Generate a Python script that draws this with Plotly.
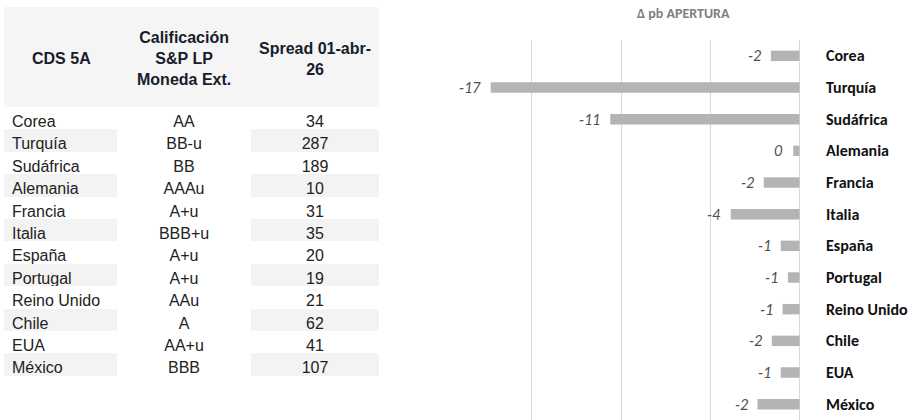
import plotly.graph_objects as go

# ---- data ----
paises = ["Corea", "Turquía", "Sudáfrica", "Alemania", "Francia", "Italia",
          "España", "Portugal", "Reino Unido", "Chile", "EUA", "México"]
calificacion = ["AA", "BB-u", "BB", "AAAu", "A+u", "BBB+u",
                "A+u", "A+u", "AAu", "A", "AA+u", "BBB"]
spread = [34, 287, 189, 10, 31, 35, 20, 19, 21, 62, 41, 107]
delta_pb = [-1.6, -17.3, -10.6, -0.35, -2.0, -3.85, -1.05, -0.65, -0.95, -1.55, -1.05, -2.35]
header_cols = ["CDS 5A", "Calificación<br>S&P LP<br>Moneda Ext.", "Spread 01-abr-<br>26"]
chart_title = "Δ pb APERTURA"

W, H = 915, 420
def px(x):
    return x / W
def py(y):
    return 1 - y / H

fig = go.Figure()

# ---- table (left) ----
n = len(paises)
stripe = ["#ffffff" if i % 2 == 0 else "#f3f3f3" for i in range(n)]
fig.add_trace(go.Table(
    domain=dict(x=[px(4), px(379)], y=[0, py(7)]),
    columnwidth=[113, 134, 128],
    header=dict(values=["", "", ""], height=100, fill_color="#f5f5f5",
                line=dict(width=0, color="#f5f5f5")),
    cells=dict(values=[paises, calificacion, spread], height=22.4,
               align=["left", "center", "center"],
               fill_color=[stripe, ["#ffffff"] * n, stripe],
               line=dict(width=0, color="#ffffff"),
               font=dict(family="Arial, Liberation Sans", size=16, color="#222222")),
))

header_x = [62, 184, 315]
header_y = [59, 59, 59]
for txt, hx, hy in zip(header_cols, header_x, header_y):
    fig.add_annotation(text="<b>" + txt + "</b>", x=px(hx), y=py(hy), xref="paper", yref="paper",
                       xanchor="center", yanchor="middle", showarrow=False, align="center",
                       font=dict(family="Arial, Liberation Sans", size=16, color="#17202a"))

# ---- bar chart (right) ----
fig.add_trace(go.Bar(
    x=delta_pb, y=paises, orientation="h", width=0.33,
    marker=dict(color="#b4b4b4", line=dict(width=0)),
    hoverinfo="skip",
))

for v, p in zip(delta_pb, paises):
    fig.add_annotation(text=str(int(round(v))), x=v, y=p, xref="x", yref="y",
                       xanchor="right", yanchor="middle", xshift=-8, showarrow=False,
                       font=dict(family="Carlito, Lato", size=16, color="#505050", style="italic"))

fig.add_annotation(text="<b>" + chart_title + "</b>", x=px(683), y=py(13), xref="paper", yref="paper",
                   xanchor="center", yanchor="middle", showarrow=False,
                   font=dict(family="Carlito, Lato", size=14, color="#808080"))

fig.update_layout(
    width=W, height=H,
    margin=dict(l=0, r=0, t=0, b=0),
    paper_bgcolor="white", plot_bgcolor="white",
    showlegend=False,
    xaxis=dict(domain=[px(442), px(800)], range=[-20.03, 0.03], dtick=5, tick0=0,
               showticklabels=False, showgrid=True, gridcolor="#d9d9d9", gridwidth=1,
               zeroline=True, zerolinecolor="#d9d9d9", zerolinewidth=1, showline=False,
               fixedrange=True),
    yaxis=dict(domain=[0, py(40)], type="category", autorange="reversed",
               side="right", ticks="", showgrid=False, zeroline=False, showline=False,
               ticklabelstandoff=25,
               tickfont=dict(family="Carlito, Lato", size=16, color="#111111", weight="bold"),
               fixedrange=True),
)

fig.write_html("out.html", config={"displayModeBar": False},
               post_script="document.body.style.margin='0px';document.body.style.overflow='hidden';")
